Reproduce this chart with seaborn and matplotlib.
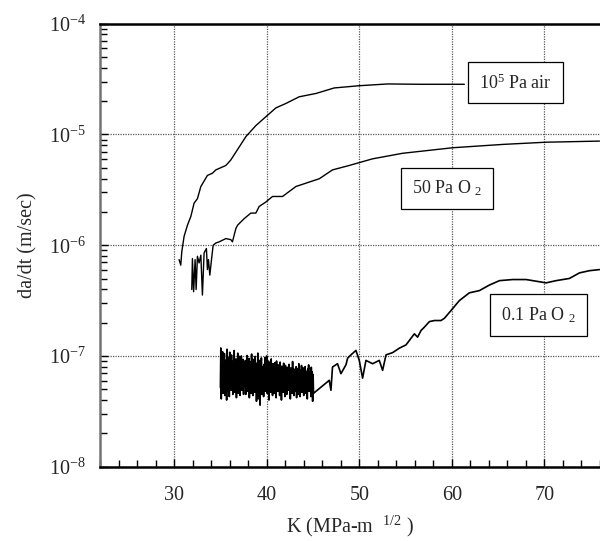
"""Crack growth rate vs stress intensity, three gas environments."""
import matplotlib
matplotlib.use("Agg")
import matplotlib.pyplot as plt
import matplotlib.ticker as mticker
import numpy as np
import pandas as pd
import seaborn as sns

# 10^5 Pa air
air_k = [30.54, 30.72, 30.83, 31.08, 31.44, 31.81, 32.16, 32.52, 32.89, 33.60,
         34.14, 34.51, 35.59, 36.13, 36.67, 37.75, 38.83, 39.91, 41.00, 42.08,
         43.51, 45.32, 47.30, 50.00, 53.06, 56.49, 61.35]
air_log = [-6.13, -6.18, -6.06, -5.92, -5.82, -5.74, -5.62, -5.58, -5.47, -5.37,
           -5.35, -5.32, -5.28, -5.23, -5.16, -5.02, -4.92, -4.84, -4.76, -4.72,
           -4.66, -4.63, -4.58, -4.56, -4.544, -4.547, -4.547]

# 50 Pa O2
o2_50_k = [31.91, 31.98, 32.11, 32.27, 32.38, 32.52, 32.70, 32.89, 33.06, 33.24,
           33.49, 33.60, 33.71, 33.86, 34.08, 34.22, 34.51, 34.86, 35.59, 36.13,
           36.30, 36.67, 36.85, 37.57, 38.29, 38.83, 39.19, 39.91, 40.63, 41.71,
           43.16, 44.59, 45.68, 47.11, 48.92, 51.44, 54.68, 60.09, 65.49, 70.18,
           75.95]
o2_50_log = [-6.40, -6.12, -6.42, -6.13, -6.40, -6.10, -6.16, -6.09, -6.45, -6.07,
             -6.03, -6.22, -6.13, -6.27, -6.10, -6.00, -5.98, -5.97, -5.94, -5.95,
             -5.97, -5.85, -5.82, -5.76, -5.71, -5.71, -5.65, -5.61, -5.56, -5.56,
             -5.47, -5.43, -5.40, -5.32, -5.28, -5.22, -5.17, -5.12, -5.09, -5.07,
             -5.06]

# 0.1 Pa O2: noisy low-K block (units of 1e-8 m/s), then the rising tail
o2_01_noise = [
    5.2, 11.8, 4.1, 9.8, 5.5, 10.9, 4.6, 8.9, 6.0, 10.5, 4.4, 7.8, 5.1, 9.2,
    4.0, 11.5, 6.2, 8.5, 4.8, 9.6, 4.3, 10.8, 5.6, 8.0, 4.9, 10.2, 5.3, 7.6,
    4.5, 9.0, 5.8, 11.2, 4.7, 8.3, 5.0, 9.4, 4.2, 7.9, 6.1, 10.6, 4.6, 8.7,
    5.4, 9.9, 4.4, 8.1, 5.7, 10.0, 4.9, 7.5, 5.2, 9.3, 4.5, 8.6, 5.9,
    5.4, 9.1, 4.5, 7.8, 6.3, 10.1, 4.8, 8.2, 5.7, 9.5, 4.2, 7.4, 5.9, 8.8,
    4.6, 10.4, 5.2, 7.9, 4.4, 9.3, 6.0, 8.1, 4.7, 9.9, 5.5, 7.6, 3.9, 8.6,
    5.8, 10.6, 4.1, 9.2, 6.4, 7.7, 3.6, 8.9, 5.1, 9.6, 4.5, 8.0, 5.6, 7.3,
    4.3, 8.4, 5.3, 9.7, 4.8, 7.5, 5.9, 10.0, 4.6, 8.2, 5.2, 9.0, 4.0, 7.7,
    6.0, 8.7, 4.7, 9.4, 5.4, 7.2, 4.4, 8.5, 5.6,
    7.9, 4.6, 8.7, 5.4, 7.2, 4.2, 9.0, 5.7, 7.5, 4.8, 8.3, 5.1, 6.9, 4.4,
    8.8, 5.9, 7.4, 4.0, 8.1, 5.5, 7.0, 4.7, 8.6, 5.2, 7.7, 4.3, 8.2, 5.8,
    6.8, 4.5, 7.9, 5.3, 7.3, 4.9, 8.4, 5.6, 6.7, 4.1, 7.8, 5.0, 7.1, 4.6,
    8.9, 5.4, 6.6, 4.4, 7.6, 5.7, 7.2, 4.8, 8.0, 4.2, 6.9, 5.1, 7.7, 4.5,
    8.5, 5.5, 6.8, 4.3, 7.4, 5.0, 8.2, 4.7, 7.0, 5.6, 7.8, 4.4, 6.6, 5.2,
    8.0, 4.6, 7.3, 5.8, 6.9, 4.1, 7.6, 5.3, 8.3, 4.8, 7.1, 5.5, 6.5, 4.3,
    7.9, 4.9, 7.2, 3.9, 6.8, 4.6]
o2_01_noise_k = (35.0, 45.06)
o2_01_k = [46.76, 46.94, 47.11, 47.65, 48.02, 48.56, 48.74, 49.10, 49.64, 50.00,
           50.36, 50.72, 51.44, 52.16, 52.52, 52.89, 53.60, 54.32, 55.05, 55.59,
           55.95, 56.30, 56.67, 57.03, 57.57, 58.11, 58.83, 59.19, 59.91, 60.81,
           61.89, 62.97, 64.05, 65.14, 66.57, 68.02, 69.46, 70.18, 71.26, 72.70,
           73.78, 74.86, 75.95]
o2_01_log = [-7.22, -7.31, -7.10, -7.07, -7.16, -7.08, -7.02, -6.99, -6.95, -7.04,
             -7.20, -7.04, -7.07, -7.04, -7.13, -6.99, -6.97, -6.93, -6.90, -6.84,
             -6.80, -6.83, -6.77, -6.74, -6.69, -6.68, -6.68, -6.66, -6.59, -6.50,
             -6.43, -6.41, -6.36, -6.32, -6.31, -6.31, -6.33, -6.34, -6.32, -6.30,
             -6.25, -6.23, -6.22]

labels = ["10$\\mathregular{^{5}}$ Pa air", "50 Pa O $\\mathregular{_{2}}$",
          "0.1 Pa O $\\mathregular{_{2}}$"]
label_pos = [(66.86, 10 ** -4.535), (59.46, 10 ** -5.486), (69.35, 10 ** -6.63)]

noise_k = np.linspace(*o2_01_noise_k, len(o2_01_noise))
frames = [
    pd.DataFrame({"K": air_k, "rate": 10.0 ** np.array(air_log), "env": "air"}),
    pd.DataFrame({"K": o2_50_k, "rate": 10.0 ** np.array(o2_50_log), "env": "o2_50"}),
    pd.DataFrame({"K": np.concatenate([noise_k, o2_01_k]),
                  "rate": np.concatenate([np.array(o2_01_noise) * 1e-8,
                                          10.0 ** np.array(o2_01_log)]),
                  "env": "o2_01"}),
]
df = pd.concat(frames, ignore_index=True)

sns.set_style("white")
plt.rcParams["font.family"] = "serif"
plt.rcParams["font.serif"] = ["Liberation Serif", "Times New Roman", "DejaVu Serif"]
plt.rcParams["mathtext.fontset"] = "stix"

fig = plt.figure(figsize=(6.0, 5.41), dpi=100)
ax = fig.add_axes([0.1667, 0.1373, 0.8333, 0.8189])

for env, grp in df.groupby("env", sort=False):
    sns.lineplot(data=grp, x="K", y="rate", ax=ax, color="black",
                 lw=1.2 if env == "o2_01" else 1.0, sort=False, estimator=None)

ax.set_yscale("log")
ax.set_xlim(22, 76)
ax.set_ylim(1e-8, 1e-4)

ax.xaxis.set_major_locator(mticker.MultipleLocator(10))
ax.xaxis.set_minor_locator(mticker.MultipleLocator(2))
ax.yaxis.set_major_locator(mticker.LogLocator(base=10, numticks=10))
ax.yaxis.set_minor_locator(mticker.LogLocator(base=10, subs=np.arange(2, 10), numticks=20))
ax.yaxis.set_major_formatter(mticker.FuncFormatter(
    lambda v, p: f"$\\mathregular{{10^{{{int(round(np.log10(v)))}}}}}$"))
ax.yaxis.set_minor_formatter(mticker.NullFormatter())
ax.set_xticks([30, 40, 50, 60, 70])

ax.tick_params(which="both", direction="in", left=True, bottom=True, top=False,
               right=False, labelsize=14.5, color="black")
ax.tick_params(which="major", length=6, width=1)
ax.tick_params(which="minor", length=5, width=1)
ax.tick_params(axis="x", which="major", pad=14)
ax.tick_params(axis="y", which="major", pad=10)

ax.grid(True, which="major", color="0.35", linestyle=(0, (1, 1)), linewidth=0.9)
for side in ["top", "bottom"]:
    ax.spines[side].set_color("black")
    ax.spines[side].set_linewidth(1.8)
ax.spines["left"].set_color("0.45")
ax.spines["left"].set_linewidth(1.8)
ax.spines["right"].set_visible(False)

ax.set_xlabel("K (MPa-m  $\\mathregular{^{1/2}}$ )", fontsize=14.5, labelpad=6)
ax.set_ylabel("da/dt (m/sec)", fontsize=14.5, labelpad=8)

for text, (kx, ry) in zip(labels, label_pos):
    ax.text(kx, ry, text, ha="center", va="center", fontsize=13, zorder=5,
            bbox=dict(boxstyle="square,pad=0.6", fc="white", ec="black", lw=0.9))

fig.savefig("out.png", dpi=100)
